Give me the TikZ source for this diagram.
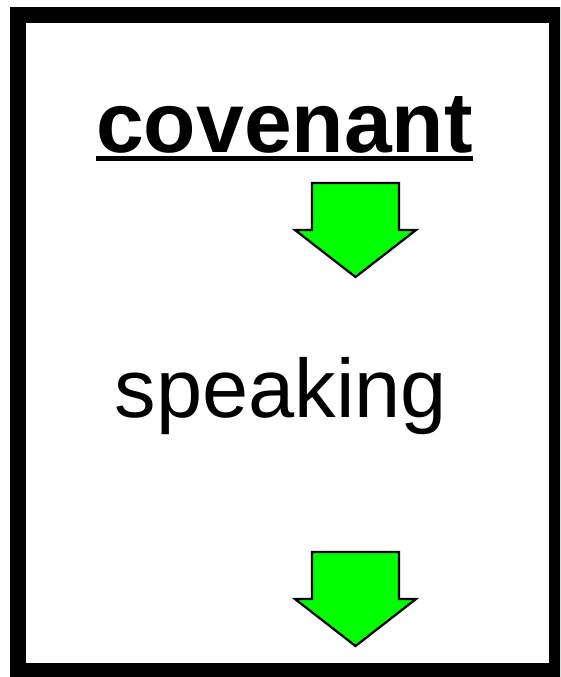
\documentclass[tikz,border=0pt]{standalone}
\usepackage{fontspec}
\setmainfont{Liberation Sans}
\usepackage{xcolor}
\usetikzlibrary{calc}
\definecolor{arrowgreen}{RGB}{0,255,0}
\tikzset{
 word/.style={anchor=base, inner sep=0, font=\fontsize{60}{60}\selectfont},
 blockarrow/.style={draw=black, fill=arrowgreen, line width=1.6pt, line join=miter}
}

\begin{document}
\begin{tikzpicture}[x=0.025cm, y=-0.025cm]
\useasboundingbox (0,0) rectangle (560,677);
\clip (0,0) rectangle (560,677);
\draw[black, line width=11.4pt] (18,15) rectangle (557,671);
\node[word, font=\fontsize{61}{61}\selectfont\bfseries] (covenant) at (284.5,152) {covenant};
\draw[black, line width=3.4pt] ($(covenant.base west)+(0,6.5)$) -- ($(covenant.base east)+(0,6.5)$);
\node[word, font=\fontsize{59}{59}\selectfont] (speaking) at (281,417) {speaking};
\foreach \t in {183,552} {
 \draw[blockarrow] (312,\t) -- (399,\t) -- (399,\t+47) -- (416,\t+47) -- (355.5,\t+94)
   -- (295,\t+47) -- (312,\t+47) -- cycle;
}
\end{tikzpicture}
\end{document}
